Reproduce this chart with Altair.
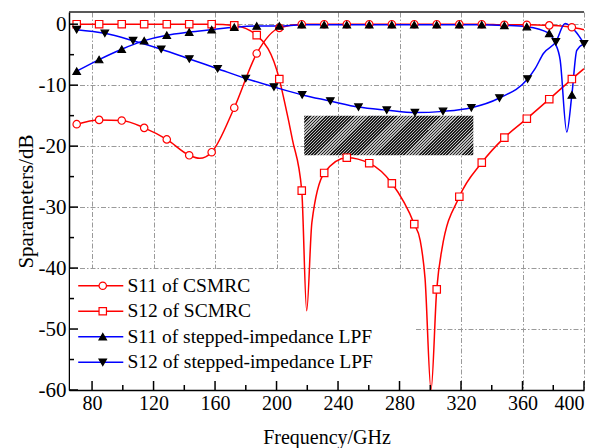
import altair as alt
import pandas as pd

# ---------------- data ----------------
series_names = ["S11 of CSMRC", "S12 of SCMRC",
                "S11 of stepped-impedance LPF", "S12 of stepped-impedance LPF"]
marker_codes = ["c", "s", "u", "d"]

# marker frequencies (circles, squares, up-triangles)
freq_a = [70.0, 84.6, 99.3, 113.9, 128.6, 143.2, 157.8, 172.5, 187.1, 201.8, 216.4,
          231.0, 245.7, 260.3, 275.0, 289.6, 304.2, 318.9, 333.5, 348.2, 362.8, 377.4, 392.1]
s11_csmrc_m = [-16.4, -15.7, -15.8, -17.0, -18.9, -21.5, -21.0, -13.7, -4.8, -0.6, 0.0,
               0.0, 0.0, 0.0, 0.0, 0.0, 0.0, 0.0, 0.0, -0.1, -0.1, -0.2, -0.5]
s12_scmrc_m = [0.0, 0.0, 0.0, 0.0, 0.0, 0.0, 0.0, -0.2, -1.8, -9.0, -27.3,
               -24.4, -21.9, -22.8, -26.1, -32.8, -43.5, -28.3, -22.7, -18.6, -15.5, -12.3, -9.0]
s11_lpf_m = [-7.7, -5.8, -4.1, -2.7, -1.8, -1.3, -0.9, -0.5, -0.3, -0.3, -0.1,
             -0.1, -0.1, -0.1, -0.1, -0.1, -0.1, -0.1, -0.1, -0.2, -0.4, -1.5, -11.6]
# marker frequencies (down-triangles)
freq_b = [70.0, 88.3, 106.7, 125.0, 143.3, 161.7, 180.0, 198.3, 216.7, 235.0,
          253.3, 271.7, 290.0, 308.3, 326.7, 345.0, 363.3, 381.7, 400.0]
s12_lpf_m = [-0.9, -1.5, -2.7, -4.1, -5.7, -7.3, -8.9, -10.3, -11.6, -12.6,
             -13.6, -14.1, -14.5, -14.3, -13.7, -12.1, -9.0, -2.9, -3.2]

# additional curve points between markers
s11_csmrc_xf = [150.0, 400.0]
s11_csmrc_xv = [-22.0, -0.9]
s12_scmrc_xf = [205.0, 210.4, 219.6, 223.0, 293.4, 296.6, 300.5, 307.5, 400.0]
s12_scmrc_xv = [-12.5, -19.0, -47.0, -32.5, -35.4, -41.7, -60.0, -37.0, -7.3]
s11_lpf_xf = [381.0, 384.5, 388.8, 395.3, 400.0]
s11_lpf_xv = [-3.0, -5.9, -17.7, -4.3, -3.2]
s12_lpf_xf = [368.2, 373.6, 387.7, 394.5]
s12_lpf_xv = [-7.3, -4.8, 0.1, -1.2]

# hatched block
block_f = [218.0, 328.0]
block_v = [-15.0, -21.5]

# axes
x_major = [80, 120, 160, 200, 240, 280, 320, 360, 400]
x_minor = [100, 140, 180, 220, 260, 300, 340, 380]
y_major = [-60, -50, -40, -30, -20, -10, 0]
y_minor = [-55, -45, -35, -25, -15, -5]

# ---------------- tables ----------------
W, H = 515, 378
XD, YD = [65, 400], [-60, 2]
RED, BLUE = "#ff0000", "#0000ff"
FONT = "Liberation Serif, Times New Roman, serif"

curves = [
    (series_names[0], freq_a, s11_csmrc_m, s11_csmrc_xf, s11_csmrc_xv),
    (series_names[1], freq_a, s12_scmrc_m, s12_scmrc_xf, s12_scmrc_xv),
    (series_names[2], freq_a, s11_lpf_m, s11_lpf_xf, s11_lpf_xv),
    (series_names[3], freq_b, s12_lpf_m, s12_lpf_xf, s12_lpf_xv),
]
rows = []
for name, fm, vm, fx, vx in curves:
    pts = sorted(list(zip(fm, vm)) + list(zip(fx, vx)))
    for f, v in pts:
        rows.append({"f": f, "v": v, "series": name})
df_lines = pd.DataFrame(rows)

mrows = []
for code, (name, fm, vm, _, _) in zip(marker_codes, curves):
    for f, v in zip(fm, vm):
        mrows.append({"f": f, "v": v, "code": code})
df_marks = pd.DataFrame(mrows)

df_block = pd.DataFrame({"f1": [block_f[0]], "f2": [block_f[1]],
                         "v1": [block_v[0]], "v2": [block_v[1]]})

xs = alt.Scale(domain=XD, nice=False, zero=False)
ys = alt.Scale(domain=YD, nice=False, zero=False)

# ---------------- layers ----------------
x_axis = alt.Axis(values=x_major, grid=True, gridColor="#9a9a9a", gridDash=[5, 2, 1.5, 2],
                  gridWidth=1, ticks=False, domainColor="black", domainWidth=1.5,
                  labelFont=FONT, labelFontSize=20, labelColor="black", labelPadding=3,
                  title="Frequency/GHz", titleFont=FONT, titleFontSize=20,
                  titleFontWeight="normal", titleColor="black", titlePadding=14)
y_axis = alt.Axis(values=y_major, grid=True, gridColor="#9a9a9a", gridDash=[5, 2, 1.5, 2],
                  gridWidth=1, ticks=False, domainColor="black", domainWidth=1.5,
                  labelFont=FONT, labelFontSize=21, labelColor="black", labelPadding=3,
                  labelExpr="'' + datum.value",
                  title="Sparameters/dB", titleFont=FONT, titleFontSize=21,
                  titleFontWeight="normal", titleColor="black", titlePadding=2)

legend_lines = alt.Legend(title=None, orient="none", legendX=16, legendY=258,
                          direction="vertical", symbolType="M-4,0H4", symbolSize=127,
                          symbolStrokeWidth=1.5, labelFont=FONT, labelFontSize=19.5,
                          labelColor="black", labelOffset=17, labelLimit=400,
                          rowPadding=4.5, padding=6)
legend_marks = alt.Legend(title=None, orient="none", legendX=18, legendY=258,
                          direction="vertical", symbolSize=55, symbolStrokeWidth=1.2,
                          labelFont=FONT, labelFontSize=19.5, labelOpacity=0,
                          rowPadding=4.5, padding=6)

# white panel behind the legend (hides the grid there, curves stay on top)
legend_panel = alt.Chart(pd.DataFrame({"t": [0]})).mark_rect(color="white").encode(
    x=alt.value(1), x2=alt.value(346), y=alt.value(257), y2=alt.value(H - 1))

lines = alt.Chart(df_lines).mark_line(strokeWidth=1.5, interpolate="monotone", clip=True).encode(
    x=alt.X("f:Q", scale=xs, axis=x_axis),
    y=alt.Y("v:Q", scale=ys, axis=y_axis),
    color=alt.Color("series:N", scale=alt.Scale(domain=series_names,
                                                range=[RED, RED, BLUE, BLUE]),
                    legend=legend_lines),
)

stops = []
n_str = 68
for i in range(n_str):
    a, m, b = i / n_str, (i + 0.55) / n_str, (i + 1) / n_str
    stops += [{"offset": a, "color": "#1e1e1e"}, {"offset": m, "color": "#1e1e1e"},
              {"offset": m, "color": "#bdbdbd"}, {"offset": b, "color": "#bdbdbd"}]
hatch = {"gradient": "linear", "x1": 0, "y1": 0, "x2": 1.1702, "y2": 0.2743, "stops": stops}

block = alt.Chart(df_block).mark_rect(fill=hatch).encode(
    x=alt.X("f1:Q", scale=xs, axis=x_axis), x2="f2:Q",
    y=alt.Y("v1:Q", scale=ys, axis=y_axis), y2="v2:Q",
)

mk_scale_shape = alt.Scale(domain=marker_codes,
                           range=["circle", "square", "triangle-up", "triangle-down"])
mk_scale_fill = alt.Scale(domain=marker_codes, range=["white", "white", "black", "black"])
mk_scale_stroke = alt.Scale(domain=marker_codes, range=[RED, RED, "black", "black"])

points = alt.Chart(df_marks).mark_point(filled=True, size=55, strokeWidth=1.2, opacity=1).encode(
    x=alt.X("f:Q", scale=xs, axis=x_axis),
    y=alt.Y("v:Q", scale=ys, axis=y_axis),
    shape=alt.Shape("code:N", scale=mk_scale_shape, legend=legend_marks),
    fill=alt.Fill("code:N", scale=mk_scale_fill, legend=legend_marks),
    stroke=alt.Stroke("code:N", scale=mk_scale_stroke, legend=legend_marks),
)

def xticks(vals, length):
    return alt.Chart(pd.DataFrame({"t": vals})).mark_rule(color="black", strokeWidth=1.5).encode(
        x=alt.X("t:Q", scale=xs, axis=x_axis), y=alt.value(H), y2=alt.value(H - length))

def yticks(vals, length):
    return alt.Chart(pd.DataFrame({"t": vals})).mark_rule(color="black", strokeWidth=1.5).encode(
        y=alt.Y("t:Q", scale=ys, axis=y_axis), x=alt.value(0), x2=alt.value(length))

top_border = alt.Chart(pd.DataFrame({"t": [0]})).mark_rule(color="#222", strokeWidth=1.5).encode(
    x=alt.value(0), x2=alt.value(W), y=alt.value(0))

chart = alt.layer(
    legend_panel, lines, block, points,
    xticks(x_major, 9), xticks(x_minor, 5), yticks(y_major, 9), yticks(y_minor, 5),
    top_border,
).properties(
    width=W, height=H,
    autosize=alt.AutoSizeParams(type="none"),
    padding={"left": 61, "top": 4, "right": 9, "bottom": 58},
    background="white",
).configure_view(stroke=None)

chart.save("out.html", embed_options={"renderer": "svg", "actions": False})
